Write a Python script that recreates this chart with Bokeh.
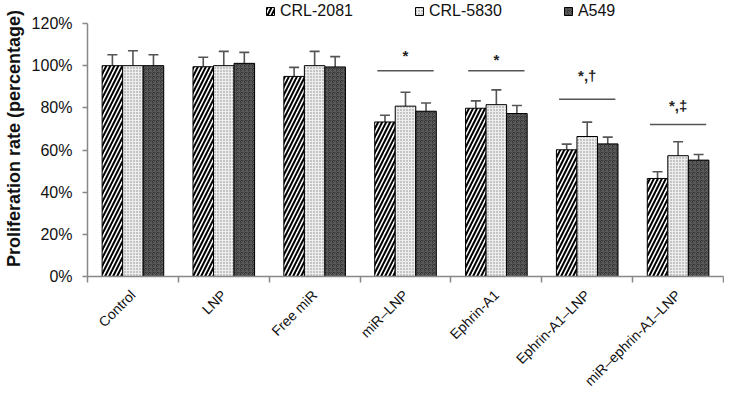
from bokeh.plotting import figure
from bokeh.models import (ColumnDataSource, FixedTicker, PrintfTickFormatter, Whisker,
                          TeeHead, Legend, LegendItem, Range1d)
from bokeh.core.properties import value
from bokeh.embed import file_html
from bokeh.resources import INLINE

categories = ["Control", "LNP", "Free miR", "miR\u2013LNP", "Ephrin-A1",
              "Ephrin-A1\u2013LNP", "miR\u2013ephrin-A1\u2013LNP"]
series = ["CRL-2081", "CRL-5830", "A549"]
crl2081 = [100, 99.5, 94.9, 73.3, 79.8, 60.1, 46.5]
crl2081_err = [5.2, 4.5, 4.3, 3.2, 3.5, 2.7, 3.2]
crl5830 = [100, 100, 100, 80.8, 81.5, 66.4, 57.3]
crl5830_err = [7.1, 6.8, 6.8, 6.6, 7.0, 6.8, 6.6]
a549 = [100, 101.1, 99.4, 78.4, 77.3, 62.9, 55.2]
a549_err = [5.2, 5.2, 4.9, 3.9, 3.8, 3.2, 2.7]
y_ticks = [0, 20, 40, 60, 80, 100, 120]

sig_index = [3, 4, 5, 6]
sig_level = [97.6, 97.6, 84.1, 72.1]
sig_labels = ["*", "*", "*,\u2020", "*,\u2021"]
sig_label_y = [104.7, 102.7, 95.1, 80.9]

FONT = "Liberation Sans"
n = len(categories)
bw = 0.226
offsets = [-bw, 0.0, bw]
values = [crl2081, crl5830, a549]
errors = [crl2081_err, crl5830_err, a549_err]
styles = [
    dict(fill_color="white", hatch_pattern="right_diagonal_line", hatch_color="black",
         hatch_scale=8, hatch_weight=2),
    dict(fill_color="#ededed", hatch_pattern="dot", hatch_color="#8a8a8a",
         hatch_scale=3, hatch_weight=1),
    dict(fill_color="#2e2e2e", hatch_pattern="criss_cross", hatch_color="#5e5e5e",
         hatch_scale=4, hatch_weight=1),
]

FRAME_H = 276
p = figure(width=724, height=398, output_backend="svg", toolbar_location=None,
           x_range=Range1d(0, n), y_range=Range1d(0, 120 * FRAME_H / 253),
           min_border_left=82, min_border_right=1, min_border_top=0,
           min_border_bottom=398 - FRAME_H)
p.grid.visible = False
p.outline_line_color = None
p.background_fill_color = "white"

renderers = []
for k in range(3):
    xs = [i + 0.5 + offsets[k] for i in range(n)]
    src = ColumnDataSource(dict(x=xs, top=values[k],
                                upper=[v + e for v, e in zip(values[k], errors[k])]))
    w = Whisker(source=src, base="x", lower="top", upper="upper", dimension="height",
                line_color="#555555", line_width=1.6,
                upper_head=TeeHead(size=10, line_color="#555555", line_width=1.6),
                lower_head=None, level="underlay")
    p.add_layout(w)
    r = p.vbar(x="x", top="top", width=bw, source=src, line_color="black",
               line_width=1, **styles[k])
    renderers.append(r)

# significance markers
sx0 = [i + 0.5 - 0.31 for i in sig_index]
sx1 = [i + 0.5 + 0.31 for i in sig_index]
sxc = [i + 0.5 for i in sig_index]
p.segment(x0=sx0, x1=sx1, y0=sig_level, y1=sig_level, line_color="#555555", line_width=1.6)
p.text(x=sxc, y=sig_label_y, text=sig_labels, text_align="center", text_baseline="middle",
       text_font=value(FONT), text_font_size="15px", text_font_style="bold", text_color="#222222")

# axes
p.xaxis.ticker = FixedTicker(ticks=[i + 0.5 for i in range(n)],
                             minor_ticks=list(range(n + 1)))
p.xaxis.major_label_overrides = {i + 0.5: c for i, c in enumerate(categories)}
p.xaxis.major_tick_line_color = None
p.xaxis.minor_tick_line_color = "#888888"
p.xaxis.minor_tick_line_width = 1.5
p.xaxis.minor_tick_out = 6
p.xaxis.minor_tick_in = 0
p.xaxis.axis_line_color = "#888888"
p.xaxis.axis_line_width = 1.5
p.xaxis.major_label_orientation = 0.785398
p.xaxis.major_label_standoff = 10
p.xaxis.major_label_text_font = FONT
p.xaxis.major_label_text_font_size = "14px"
p.xaxis.major_label_text_color = "#111111"

p.yaxis.ticker = FixedTicker(ticks=y_ticks)
p.yaxis.formatter = PrintfTickFormatter(format="%d%%")
p.yaxis.bounds = (0, 120)
p.yaxis.minor_tick_line_color = None
p.yaxis.major_tick_line_color = "#888888"
p.yaxis.major_tick_line_width = 1.5
p.yaxis.major_tick_out = 5
p.yaxis.major_tick_in = 0
p.yaxis.axis_line_color = "#888888"
p.yaxis.axis_line_width = 1.5
p.yaxis.major_label_standoff = 10
p.yaxis.major_label_text_font = FONT
p.yaxis.major_label_text_font_size = "16px"
p.yaxis.major_label_text_color = "#111111"
p.yaxis.axis_label = "Proliferation rate (percentage)"
p.yaxis.axis_label_text_font = FONT
p.yaxis.axis_label_text_font_size = "18px"
p.yaxis.axis_label_text_font_style = "bold"
p.yaxis.axis_label_text_color = "#111111"
p.yaxis.axis_label_standoff = 5

legend = Legend(items=[LegendItem(label=s, renderers=[r]) for s, r in zip(series, renderers)],
                orientation="horizontal", location=(178, FRAME_H - 20),
                border_line_color=None, background_fill_alpha=0, padding=0, margin=0,
                spacing=61, label_standoff=5, glyph_width=10, glyph_height=10,
                label_text_font=FONT, label_text_font_size="16px", label_text_color="#111111",
                label_height=12)
p.add_layout(legend)

open("out.html", "w").write(file_html(p, INLINE))
